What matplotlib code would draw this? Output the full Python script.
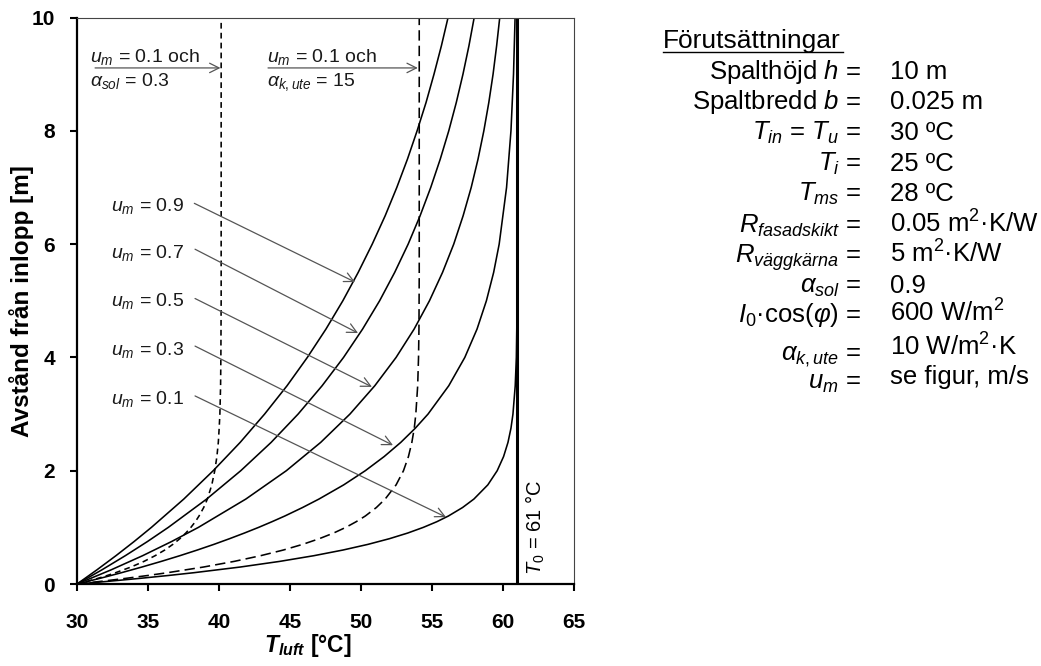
#!/usr/bin/env python
# luftspalt: temperatur i spalten som funktion av hojd, for olika um
import matplotlib
matplotlib.use('Agg')
import matplotlib.pyplot as plt
from matplotlib.lines import Line2D

plt.rcParams['font.family'] = ['Liberation Sans', 'DejaVu Sans']
plt.rcParams['mathtext.fontset'] = 'custom'
plt.rcParams['mathtext.rm'] = 'Liberation Sans'
plt.rcParams['mathtext.it'] = 'Liberation Sans:italic'
plt.rcParams['mathtext.bf'] = 'Liberation Sans:bold'
plt.rcParams['mathtext.bfit'] = 'Liberation Sans:italic:bold'

# hojd i spalten [m] - glesare for de flacka kurvorna, tatare for de branta
y_slow = [0, 0.25, 0.5, 0.75, 1, 1.5, 2, 2.5, 3, 3.5, 4, 4.5, 5, 5.5, 6, 6.5, 7,
          7.5, 8, 8.5, 9, 9.5, 10]
y_fast = [0, 0.05, 0.1, 0.15, 0.2, 0.3, 0.4, 0.5, 0.6, 0.7, 0.8, 0.9, 1.0, 1.1, 1.2,
          1.35, 1.5, 1.75, 2, 2.25, 2.5, 2.75, 3, 3.5, 4, 4.5, 5, 5.5, 6, 7, 8, 9, 10]

# lufttemperatur [C], avlast ur figuren
T_u09 = [30, 31.40, 32.74, 34.02, 35.24, 37.52, 39.59, 41.49, 43.21, 44.79, 46.22,
         47.53, 48.72, 49.80, 50.79, 51.70, 52.52, 53.27, 53.95, 54.58, 55.14, 55.66, 56.13]
T_u07 = [30, 31.75, 33.40, 34.96, 36.43, 39.13, 41.53, 43.67, 45.57, 47.26, 48.77,
         50.11, 51.31, 52.37, 53.32, 54.16, 54.91, 55.58, 56.18, 56.71, 57.18, 57.60, 57.97]
T_u05 = [30, 32.40, 34.62, 36.66, 38.55, 41.89, 44.74, 47.16, 49.22, 50.97, 52.47,
         53.74, 54.82, 55.74, 56.53, 57.19, 57.76, 58.24, 58.65, 59.00, 59.30, 59.55, 59.77]
T_u03 = [30, 30.81, 31.61, 32.38, 33.13, 34.57, 35.94, 37.24, 38.47, 39.64, 40.74,
         41.79, 42.79, 43.73, 44.63, 45.88, 47.04, 48.78, 50.30, 51.63, 52.80, 53.82,
         54.72, 56.18, 57.31, 58.17, 58.83, 59.34, 59.73, 60.25, 60.56, 60.74, 60.85]
T_u01 = [30, 32.31, 34.44, 36.41, 38.24, 41.50, 44.29, 46.68, 48.73, 50.49, 52.00,
         53.29, 54.39, 55.34, 56.15, 57.15, 57.95, 58.93, 59.59, 60.04, 60.35, 60.56,
         60.70, 60.86, 60.94, 60.97, 60.99, 61.0, 61.0, 61.0, 61.0, 61.0, 61.0]
# um = 0.1 och alfa_k,ute = 15
T_k15 = [30, 31.78, 33.44, 34.97, 36.38, 38.91, 41.08, 42.93, 44.53, 45.89, 47.06,
         48.07, 48.93, 49.66, 50.30, 51.08, 51.70, 52.47, 52.99, 53.34, 53.58, 53.75,
         53.86, 53.99, 54.05, 54.08, 54.09, 54.1, 54.1, 54.1, 54.1, 54.1, 54.1]
# um = 0.1 och alfa_sol = 0.3
T_sol03 = [30, 30.76, 31.47, 32.12, 32.72, 33.80, 34.72, 35.50, 36.18, 36.75, 37.24,
           37.66, 38.02, 38.33, 38.59, 38.92, 39.18, 39.49, 39.70, 39.85, 39.95, 40.01,
           40.06, 40.11, 40.13, 40.14, 40.15, 40.15, 40.15, 40.15, 40.15, 40.15, 40.15]
T0 = 61

um_labels = ['0.9', '0.7', '0.5', '0.3', '0.1']
# textens baslinje, pilstart och pilspets (T, y)
label_y = [6.59, 5.75, 4.91, 4.04, 3.18]
arrow_from = [(38.26, 6.72), (38.31, 5.91), (38.31, 5.04), (38.31, 4.20), (38.31, 3.32)]
arrow_to = [(49.58, 5.33), (49.79, 4.43), (50.77, 3.48), (52.25, 2.45), (55.99, 1.18)]

fig = plt.figure(figsize=(10.41, 6.66), dpi=100)
ax = fig.add_axes([0.074, 0.1231, 0.4774, 0.8506])

for T in [T_u09, T_u07, T_u05]:
    ax.plot(T, y_slow, color='black', lw=1.15)
for T in [T_u03, T_u01]:
    ax.plot(T, y_fast, color='black', lw=1.15)
ax.plot(T_k15, y_fast, color='black', lw=1.15, dashes=(6.5, 3.2))
ax.plot(T_sol03, y_fast, color='black', lw=1.15, dashes=(3.6, 2.6))
ax.axvline(T0, color='black', lw=2.2)

arrowkw = dict(arrowstyle='->', color='#555555', lw=0.9, mutation_scale=17,
               shrinkA=0, shrinkB=0)
for lab, ly, a0, a1 in zip(um_labels, label_y, arrow_from, arrow_to):
    ax.text(37.55, ly, r'$u_m$ = ' + lab, ha='right', va='baseline', fontsize=14,
            color='#1a1a1a')
    ax.annotate('', xy=a1, xytext=a0, arrowprops=arrowkw)

# kommentarer overst
ax.text(30.9, 9.22, r'$u_m$ = 0.1 och', ha='left', va='baseline', fontsize=14, color='#1a1a1a')
ax.text(30.9, 8.79, r'$\alpha_{sol}$ = 0.3', ha='left', va='baseline', fontsize=14, color='#1a1a1a')
ax.annotate('', xy=(40.1, 9.11), xytext=(31.27, 9.11), arrowprops=arrowkw)
ax.text(43.4, 9.22, r'$u_m$ = 0.1 och', ha='left', va='baseline', fontsize=14, color='#1a1a1a')
ax.text(43.4, 8.79, r'$\alpha_{k,ute}$ = 15', ha='left', va='baseline', fontsize=14, color='#1a1a1a')
ax.annotate('', xy=(54.0, 9.11), xytext=(43.45, 9.11), arrowprops=arrowkw)

ax.text(62.25, 0.16, r'$T_0$ = 61 °C', rotation=90, ha='center', va='bottom', fontsize=14.5)

ax.set_xlim(30, 65)
ax.set_ylim(0, 10)
ax.set_xticks(range(30, 66, 5))
ax.set_yticks(range(0, 11, 2))
for s in ['left', 'bottom']:
    ax.spines[s].set_linewidth(1.6)
for s in ['top', 'right']:
    ax.spines[s].set_linewidth(0.8)
    ax.spines[s].set_color('#444444')
ax.tick_params(axis='both', direction='out', length=5, width=1.5, labelsize=15)
ax.tick_params(axis='x', pad=16)
ax.tick_params(axis='y', pad=11)
for lbl in ax.get_xticklabels() + ax.get_yticklabels():
    lbl.set_fontweight('bold')

ax.set_ylabel('Avstånd från inlopp [m]', fontsize=17.5, fontweight='bold')
ax.yaxis.set_label_coords(-0.087, 0.5)
ax.set_xlabel(r'$\mathbfit{T}_{\mathbfit{luft}}$ [°C]', fontsize=16.5, fontweight='bold')
ax.xaxis.set_label_coords(0.465, -0.085)

# forutsattningar till hoger
fig.text(663 / 1041, 1 - 48 / 666, 'Förutsättningar', fontsize=19, ha='left', va='baseline')
fig.add_artist(Line2D([663 / 1041, 843 / 1041], [1 - 52 / 666, 1 - 52 / 666],
                      color='black', lw=1.0))

labels = [r'Spalthöjd $h$ =', r'Spaltbredd $b$ =', r'$T_{in}$ = $T_u$ =', r'$T_i$ =',
          r'$T_{ms}$ =', r'$R_{fasadskikt}$ =', r'$R_{väggkärna}$ =', r'$\alpha_{sol}$ =',
          r'$I_0$·cos($\varphi$) =', r'$\alpha_{k,ute}$ =', r'$u_m$ =']
values = ['10 m', '0.025 m', '30 ºC', '25 ºC', '28 ºC', '0.05 m$^2$·K/W', '5 m$^2$·K/W',
          '0.9', '600 W/m$^2$', '10 W/m$^2$·K', 'se figur, m/s']
label_base = [79, 109, 140, 171, 201, 233, 263, 293, 322, 360, 389]
value_base = [79, 109, 140, 171, 201, 233, 263, 293, 322, 356, 384]
for lab, val, lb, vb in zip(labels, values, label_base, value_base):
    fig.text(861 / 1041, 1 - lb / 666, lab, fontsize=18.5, ha='right', va='baseline')
    fig.text(890 / 1041, 1 - vb / 666, val, fontsize=18.5, ha='left', va='baseline')

fig.savefig('out.png', dpi=100)
